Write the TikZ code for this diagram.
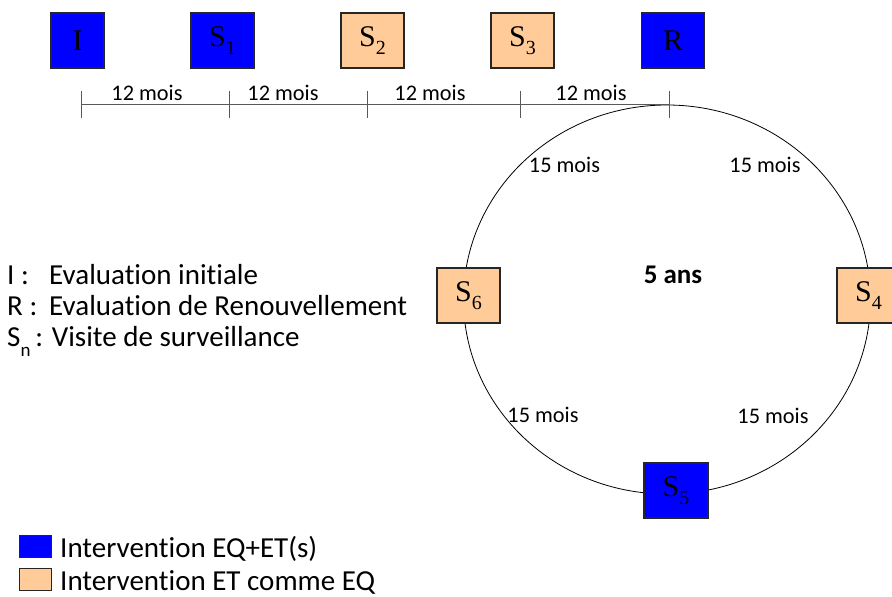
\documentclass[tikz,border=0pt]{standalone}
\usepackage{fontspec}
\setmainfont{Carlito}[Ligatures=NoCommon]
\newfontfamily\tnr{Liberation Serif}
\usetikzlibrary{shapes.geometric}
\definecolor{bblue}{HTML}{0000FF}
\definecolor{borange}{HTML}{FFCC99}
\newcommand{\Sidx}[1]{S\raisebox{-0.28em}{\fontsize{20}{20}\selectfont #1}}
\begin{document}
\begin{tikzpicture}[x=1pt,y=-1pt,
  box/.style={draw=black!85, line width=1.1pt, minimum height=55pt, inner sep=0pt, font=\tnr\fontsize{30}{30}\selectfont},
  bluebox/.style={box, fill=bblue},
  orbox/.style={box, fill=borange},
  tl/.style={draw=black!65, line width=1pt},
  lab/.style={font=\fontsize{22.3}{22}\selectfont, inner sep=0pt, anchor=base},
  leg/.style={font=\fontsize{29}{30}\selectfont, inner sep=0pt, anchor=base west},
  legbox/.style={draw=black!85, line width=1pt, minimum width=32pt, minimum height=22pt, inner sep=0pt}]
\useasboundingbox (0,0) rectangle (892,597);
\begin{scope}
\clip (0,0) rectangle (892,597);
% cycle circle
\node[draw=black, line width=0.8pt, ellipse, minimum width=407pt, minimum height=389pt, inner sep=0pt] (C) at (667,299.5) {};
% top boxes
\node[bluebox, minimum width=53pt] (I) at (77.5,40.5) {I};
\node[bluebox, minimum width=63pt] (S1) at (222.5,40.5) {\Sidx{1}};
\node[orbox, minimum width=63pt] (S2) at (372.5,40.5) {\Sidx{2}};
\node[orbox, minimum width=63pt] (S3) at (522.5,40.5) {\Sidx{3}};
\node[bluebox, minimum width=63pt] (R) at (673,40.5) {R};
% timeline
\coordinate (t0) at (81,104);
\coordinate (t1) at (229,104);
\coordinate (t2) at (367,104);
\coordinate (t3) at (520,104);
\coordinate (t4) at (669,104);
\draw[tl] (t0) -- (t4);
\foreach \t in {t0,t1,t2,t3,t4}{
  \draw[tl] ([yshift=13pt]\t) -- ([yshift=-14pt]\t);
}
\node[lab] (m1) at (147,100) {12 mois};
\node[lab] (m2) at (283,100) {12 mois};
\node[lab] (m3) at (430,100) {12 mois};
\node[lab] (m4) at (591,100) {12 mois};
% circle boxes
\node[orbox, minimum width=63pt] (S6) at (468.5,295.5) {\Sidx{6}};
\node[orbox, minimum width=63pt] (S4) at (868.5,295.5) {\Sidx{4}};
\node[bluebox, minimum width=64pt] (S5) at (676,490.5) {\Sidx{5}};
% circle labels
\node[lab] (q1) at (564.5,172) {15 mois};
\node[lab] (q2) at (765,172) {15 mois};
\node[lab] (q3) at (543,422) {15 mois};
\node[lab] (q4) at (773,423) {15 mois};
\node[font=\bfseries\fontsize{27}{27}\selectfont, inner sep=0pt, anchor=base] (ans) at (673,283) {5 ans};
% key
\node[leg] (k1) at (7,284) {\makebox[42pt][l]{I :}Evaluation initiale};
\node[leg] (k2) at (7,315) {\makebox[42pt][l]{R :}Evaluation de Renouvellement};
\node[leg] (k3) at (7,346) {S\raisebox{-0.35em}{\fontsize{19}{19}\selectfont n}\,: Visite de surveillance};
% legend
\node[legbox, fill=bblue] (lb) at (35,546) {};
\node[legbox, fill=borange] (lo) at (35,579.5) {};
\node[leg] (lbt) at (60,557) {Intervention EQ+ET(s)};
\node[leg] (lot) at (60,590) {Intervention ET comme EQ};
\end{scope}
\end{tikzpicture}
\end{document}
